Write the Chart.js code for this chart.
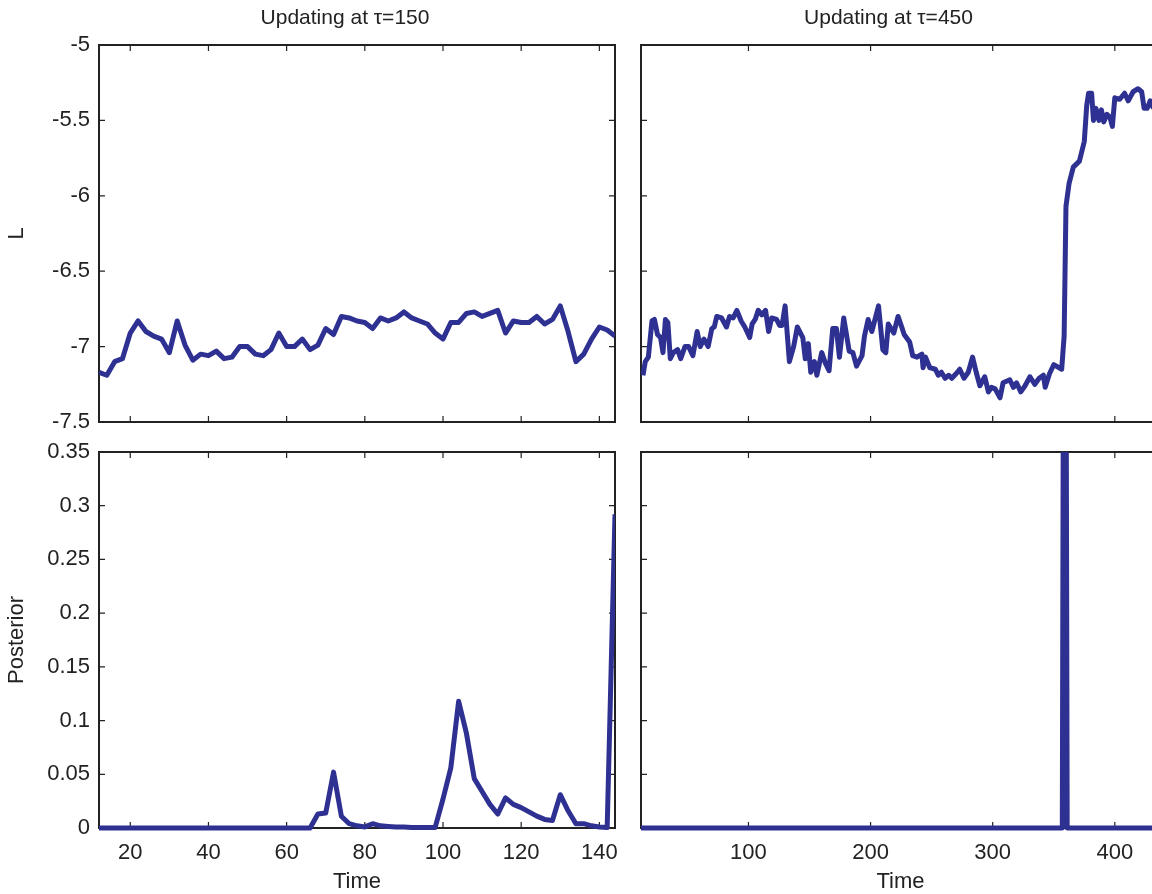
<!DOCTYPE html>
<html>
<head>
<meta charset="utf-8">
<script src="https://cdn.jsdelivr.net/npm/chart.js@4.4.1/dist/chart.umd.min.js"></script>
<style>
  html, body { margin: 0; padding: 0; background: #fff; overflow: hidden; }
  #wrap { position: relative; width: 1152px; height: 894px; overflow: hidden; background: #fff; }
  canvas { position: absolute; }
</style>
</head>
<body>
<div id="wrap">
  <canvas id="tl" width="625" height="440" style="left:0;top:0"></canvas>
  <canvas id="bl" width="625" height="470" style="left:0;top:430px"></canvas>
  <canvas id="tr" width="545" height="440" style="left:615px;top:0"></canvas>
  <canvas id="br" width="545" height="470" style="left:615px;top:430px"></canvas>
</div>
<script>
// values

// left column: updating at tau=150
const timeL = [12, 14, 16, 18, 20, 22, 24, 26, 28, 30, 32, 34, 36, 38, 40, 42, 44, 46, 48, 50,
  52, 54, 56, 58, 60, 62, 64, 66, 68, 70, 72, 74, 76, 78, 80, 82, 84, 86, 88, 90,
  92, 94, 96, 98, 100, 102, 104, 106, 108, 110, 112, 114, 116, 118, 120, 122, 124, 126, 128, 130,
  132, 134, 136, 138, 140, 142, 144];
const lossL = [-7.17, -7.19, -7.10, -7.08, -6.91, -6.83, -6.90, -6.93, -6.95, -7.04, -6.83, -6.99, -7.09, -7.05, -7.06, -7.03, -7.08, -7.07, -7.00, -7.00,
  -7.05, -7.06, -7.02, -6.91, -7.00, -7.00, -6.95, -7.02, -6.99, -6.88, -6.92, -6.80, -6.81, -6.83, -6.84, -6.88, -6.81, -6.83, -6.81, -6.77,
  -6.81, -6.83, -6.85, -6.91, -6.95, -6.84, -6.84, -6.78, -6.77, -6.80, -6.78, -6.76, -6.91, -6.83, -6.84, -6.84, -6.80, -6.85, -6.82, -6.73,
  -6.90, -7.10, -7.05, -6.95, -6.87, -6.89, -6.93];
const postL = [0, 0, 0, 0, 0, 0, 0, 0, 0, 0, 0, 0, 0, 0, 0, 0, 0, 0, 0, 0,
  0, 0, 0, 0, 0, 0, 0, 0, 0.013, 0.014, 0.052, 0.011, 0.004, 0.002, 0.001, 0.004, 0.002, 0.0015, 0.001, 0.001,
  0.0005, 0.0005, 0.0005, 0.0005, 0.027, 0.056, 0.118, 0.088, 0.046, 0.034, 0.022, 0.013, 0.028, 0.022, 0.019, 0.015, 0.011, 0.008, 0.007, 0.031,
  0.016, 0.004, 0.004, 0.002, 0.001, 0.0005, 0.292];

// right column: updating at tau=450
const timeR = [13.6, 15.5, 18, 21, 23, 25.5, 28, 30, 32, 34, 36, 38.5, 42, 44.5, 48, 51, 54.5, 58, 60.5, 63.5,
  67, 70, 72, 74, 78, 82, 84.5, 87.5, 90.5, 94, 97, 101, 103, 105.5, 108, 111, 114, 116.5, 119, 123,
  125.5, 127.5, 130, 133.5, 137, 140, 144.5, 146.5, 149, 151, 154, 156, 160, 163, 166, 169, 172, 174.5, 178, 182.5,
  185.5, 188.5, 193, 195, 198, 201, 206.5, 210, 212.5, 214.5, 219, 222.5, 225.5, 227.5, 232, 234.5, 238, 242, 243, 245,
  248.5, 253, 255.5, 258, 261, 264, 266.5, 270, 273, 276.5, 280, 283.5, 286.5, 289.5, 293.5, 296.5, 299, 302, 306, 308.5,
  314, 317, 319.5, 323, 326.5, 330.5, 334.5, 338, 341.5, 343, 346.5, 350, 356.5, 358.5, 360, 362.5, 366, 371, 375, 377,
  378.5, 381, 382.5, 384.5, 387, 389, 391, 393.5, 396, 398, 400, 404, 408, 411, 415, 419, 422, 424, 426.5, 429,
  431, 434, 437];
const lossR = [-7.19, -7.10, -7.07, -6.83, -6.82, -6.92, -6.94, -7.04, -6.82, -6.84, -7.08, -7.04, -7.02, -7.08, -7.00, -7.00, -7.06, -6.90, -7.00, -6.95,
  -7.00, -6.88, -6.87, -6.80, -6.81, -6.87, -6.80, -6.81, -6.76, -6.83, -6.87, -6.94, -6.85, -6.82, -6.76, -6.79, -6.76, -6.90, -6.81, -6.82,
  -6.86, -6.86, -6.73, -7.10, -7.00, -6.87, -6.94, -7.08, -6.98, -7.17, -7.10, -7.19, -7.04, -7.11, -7.16, -6.88, -6.88, -7.07, -6.81, -7.03,
  -7.04, -7.13, -7.06, -6.93, -6.82, -6.90, -6.73, -7.02, -7.04, -6.85, -6.91, -6.80, -6.87, -6.92, -6.97, -7.06, -7.07, -7.05, -7.14, -7.07,
  -7.14, -7.15, -7.19, -7.17, -7.21, -7.19, -7.21, -7.18, -7.15, -7.21, -7.17, -7.07, -7.17, -7.26, -7.20, -7.30, -7.27, -7.28, -7.34, -7.24,
  -7.22, -7.27, -7.24, -7.30, -7.26, -7.20, -7.25, -7.21, -7.19, -7.27, -7.18, -7.12, -7.15, -6.93, -6.07, -5.92, -5.81, -5.77, -5.64, -5.40,
  -5.32, -5.32, -5.50, -5.42, -5.50, -5.43, -5.51, -5.46, -5.48, -5.54, -5.35, -5.36, -5.32, -5.37, -5.31, -5.29, -5.31, -5.42, -5.42, -5.37,
  -5.41, -5.40, -5.40];
const timePostR = [12, 357, 359, 361, 437];
const postR = [0, 0, 1, 0, 0];

// tick labels
const xTicksL = [20, 40, 60, 80, 100, 120, 140];
const xTicksR = [100, 200, 300, 400];
const yTicksLoss = [-5, -5.5, -6, -6.5, -7, -7.5];
const yTicksPost = [0, 0.05, 0.1, 0.15, 0.2, 0.25, 0.3, 0.35];

const LINE = '#2e3192';
const INK = '#222';
const FONT = "'Liberation Sans', Arial, sans-serif";

// box round the axes with matlab-style inward ticks on all four sides,
// plus the panel title (matlab puts it a little left of the axes centre)
const frame = (xTicks, yTicks, title) => ({
  id: 'frame',
  beforeDatasetsDraw(chart) {
    const { ctx, chartArea: a, scales: { x, y } } = chart;
    const len = 6;
    ctx.save();
    ctx.strokeStyle = INK;
    ctx.lineWidth = 2;
    ctx.strokeRect(a.left, a.top, a.right - a.left, a.bottom - a.top);
    ctx.lineWidth = 1.2;
    ctx.beginPath();
    xTicks.forEach(v => {
      const px = x.getPixelForValue(v);
      if (px <= a.left + 1 || px >= a.right - 1) return;
      ctx.moveTo(px, a.bottom); ctx.lineTo(px, a.bottom - len);
      ctx.moveTo(px, a.top); ctx.lineTo(px, a.top + len);
    });
    yTicks.forEach(v => {
      const py = y.getPixelForValue(v);
      if (py <= a.top + 1 || py >= a.bottom - 1) return;
      ctx.moveTo(a.left, py); ctx.lineTo(a.left + len, py);
      ctx.moveTo(a.right, py); ctx.lineTo(a.right - len, py);
    });
    ctx.stroke();
    if (title) {
      ctx.fillStyle = INK;
      ctx.font = '21px ' + FONT;
      ctx.textAlign = 'center';
      ctx.textBaseline = 'middle';
      ctx.fillText(title, (a.left + a.right) / 2 - 12, 18);
    }
    ctx.restore();
  }
});

// stop chart.js from shrinking the plot area to make room for edge labels
const noMargins = s => {
  s.paddingLeft = 0; s.paddingRight = 0; s.paddingTop = 0; s.paddingBottom = 0;
};

const panel = (id, p) => {
  const canvas = document.getElementById(id);
  return new Chart(canvas, {
    type: 'line',
    data: {
      datasets: [{
        data: p.t.map((t, i) => ({ x: t, y: p.v[i] })),
        borderColor: LINE,
        borderWidth: 5,
        pointRadius: 0,
        tension: 0,
        borderJoinStyle: 'round',
        clip: { left: 0, top: 0, right: 0, bottom: 3 }
      }]
    },
    options: {
      responsive: false,
      animation: false,
      events: [],
      layout: { padding: p.pad },
      plugins: {
        legend: { display: false },
        tooltip: { enabled: false },
        title: { display: false }
      },
      scales: {
        x: {
          type: 'linear',
          min: p.xMin,
          max: p.xMax,
          grid: { display: false, drawTicks: false },
          border: { display: false },
          afterBuildTicks: s => { s.ticks = p.xTicks.map(v => ({ value: v })); },
          afterFit: s => { s.height = p.xHeight; noMargins(s); },
          ticks: {
            display: p.xLabels,
            autoSkip: false,
            maxRotation: 0,
            padding: 12,
            color: INK,
            font: { family: FONT, size: 22 },
            callback: v => String(v)
          },
          title: {
            display: p.xLabels,
            text: 'Time',
            color: INK,
            font: { family: FONT, size: 22 },
            padding: { top: 0, bottom: 5 }
          }
        },
        y: {
          type: 'linear',
          min: p.yMin,
          max: p.yMax,
          grid: { display: false, drawTicks: false },
          border: { display: false },
          afterBuildTicks: s => { s.ticks = p.yTicks.map(v => ({ value: v })); },
          afterFit: s => { s.width = p.yWidth; noMargins(s); },
          ticks: {
            display: p.yLabels,
            autoSkip: false,
            padding: 9,
            color: INK,
            font: { family: FONT, size: 22 },
            callback: v => String(v)
          },
          title: {
            display: !!p.yTitle,
            text: p.yTitle,
            color: INK,
            font: { family: FONT, size: 22 },
            padding: { top: 4, bottom: 0 }
          }
        }
      }
    },
    plugins: [frame(p.xTicks, p.yTicks, p.title)]
  });
};

panel('tl', {
  t: timeL, v: lossL, title: 'Updating at \u03c4=150', yTitle: 'L',
  xMin: 12, xMax: 144, xTicks: xTicksL, yMin: -7.5, yMax: -5, yTicks: yTicksLoss,
  xLabels: false, yLabels: true, xHeight: 0, yWidth: 99,
  pad: { top: 45, right: 10, bottom: 18, left: 0 }
});
panel('bl', {
  t: timeL, v: postL, title: '', yTitle: 'Posterior',
  xMin: 12, xMax: 144, xTicks: xTicksL, yMin: 0, yMax: 0.35, yTicks: yTicksPost,
  xLabels: true, yLabels: true, xHeight: 72, yWidth: 99,
  pad: { top: 22, right: 10, bottom: 0, left: 0 }
});
panel('tr', {
  t: timeR, v: lossR, title: 'Updating at \u03c4=450', yTitle: '',
  xMin: 12, xMax: 437, xTicks: xTicksR, yMin: -7.5, yMax: -5, yTicks: yTicksLoss,
  xLabels: false, yLabels: false, xHeight: 0, yWidth: 26,
  pad: { top: 45, right: 0, bottom: 18, left: 0 }
});
panel('br', {
  t: timePostR, v: postR, title: '', yTitle: '',
  xMin: 12, xMax: 437, xTicks: xTicksR, yMin: 0, yMax: 0.35, yTicks: yTicksPost,
  xLabels: true, yLabels: false, xHeight: 72, yWidth: 26,
  pad: { top: 22, right: 0, bottom: 0, left: 0 }
});
</script>
</body>
</html>
